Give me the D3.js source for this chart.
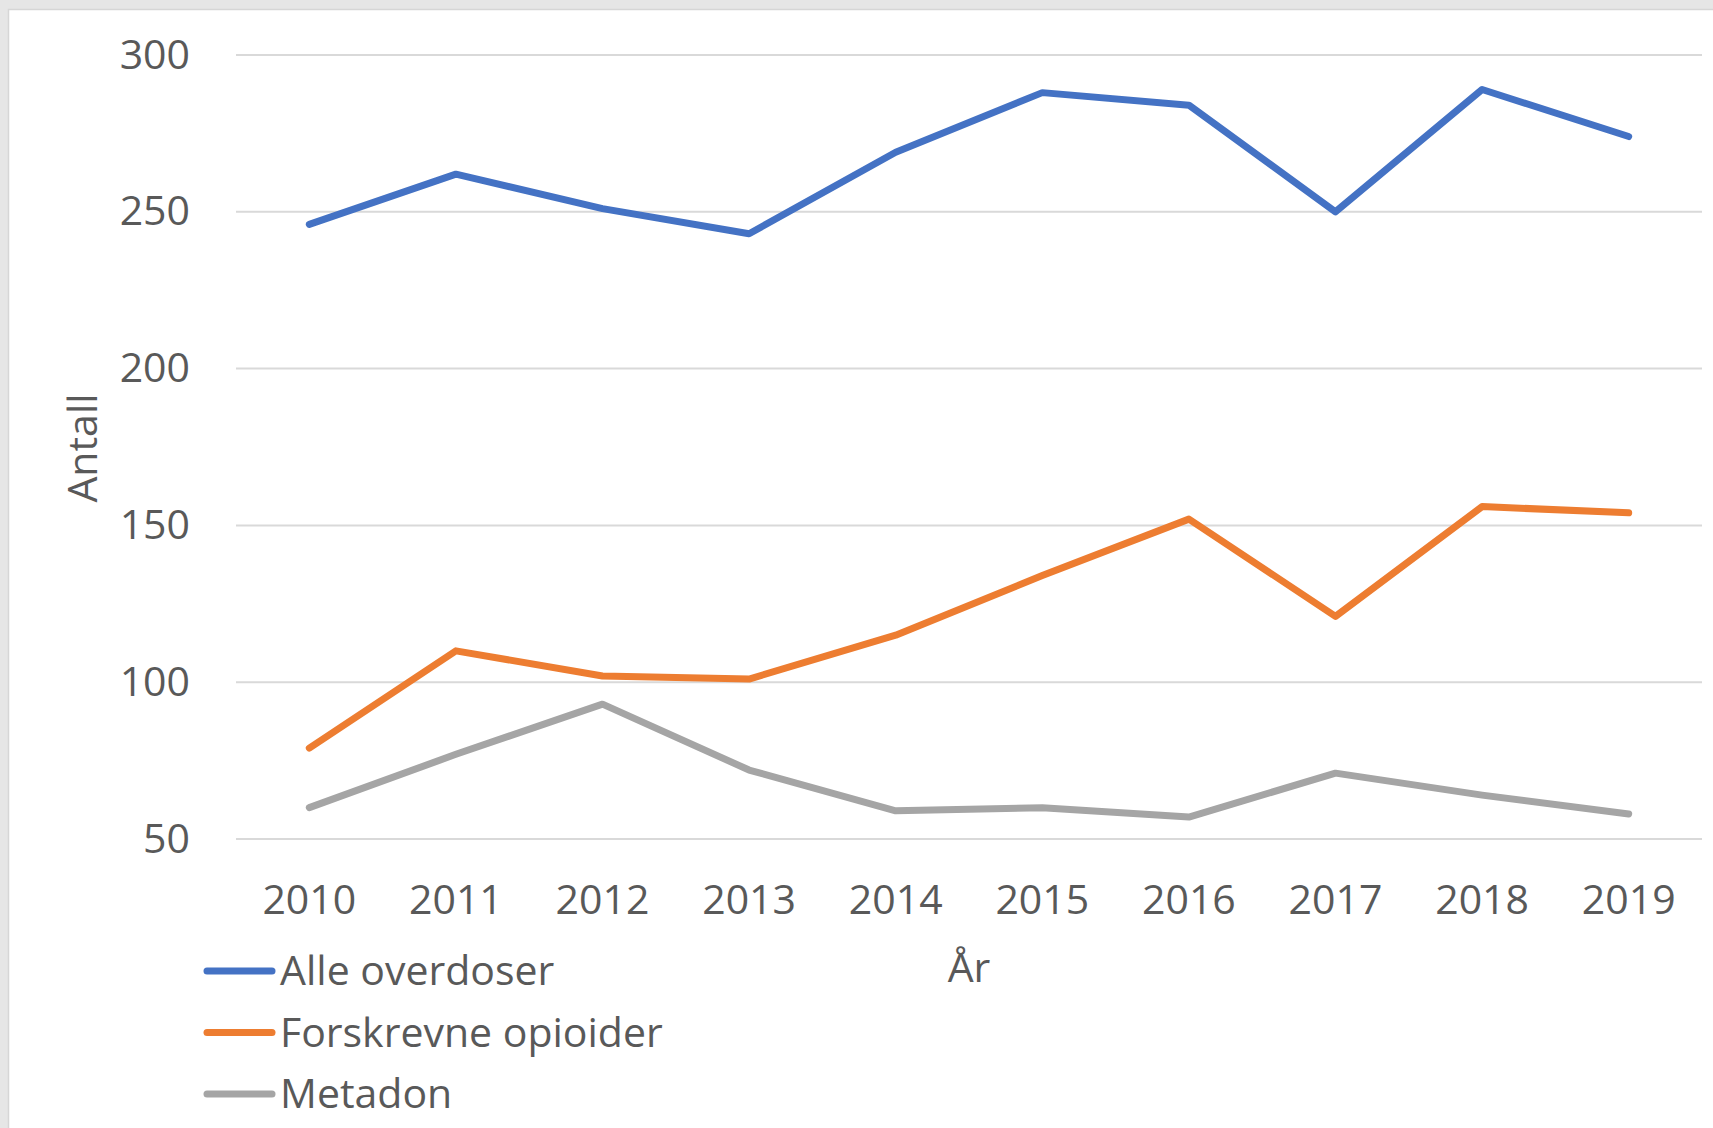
<!DOCTYPE html>
<html>
<head>
<meta charset="utf-8">
<script src="https://cdn.jsdelivr.net/npm/d3@7"></script>
<style>
    body { margin: 0; background: #e6e6e6; overflow: hidden; }
    text { font-family: "Open Sans", sans-serif; fill: #595959; }
</style>
</head>
<body>
<div id="chart-area"></div>
<script>
// Data
var years = ["2010", "2011", "2012", "2013", "2014", "2015", "2016", "2017", "2018", "2019"];
var alleOverdoser = [246, 262, 251, 243, 269, 288, 284, 250, 289, 274];
var forskrevneOpioider = [79, 110, 102, 101, 115, 134, 152, 121, 156, 154];
var metadon = [60, 77, 93, 72, 59, 60, 57, 71, 64, 58];
var seriesNames = ["Alle overdoser", "Forskrevne opioider", "Metadon"];
var seriesColors = ["#4472C4", "#ED7D31", "#A5A5A5"];
var yTicks = [50, 100, 150, 200, 250, 300];

var W = 1713, H = 1128;
var margin = { left: 236, right: 11, top: 55, bottom: 289 },
    width = W - margin.left - margin.right,
    height = H - margin.top - margin.bottom;

var svg = d3.select("#chart-area").append("svg")
    .attr("width", W)
    .attr("height", H);

// chart frame
svg.append("rect")
    .attr("x", 8.5).attr("y", 9.5)
    .attr("width", W).attr("height", H)
    .attr("fill", "#fff")
    .attr("stroke", "#d6d6d6")
    .attr("stroke-width", 1.5);

var g = svg.append("g")
    .attr("transform", "translate(" + margin.left + "," + margin.top + ")");

// Scales
var x = d3.scaleBand().domain(years).range([0, width]);
var y = d3.scaleLinear().domain([50, 300]).range([height, 0]);
var xc = function(d) { return x(d) + x.bandwidth() / 2; };

// gridlines
g.append("g").attr("class", "grid")
    .selectAll("line").data(yTicks).enter().append("line")
    .attr("x1", 0).attr("x2", width)
    .attr("y1", d => y(d)).attr("y2", d => y(d))
    .attr("stroke", "#d9d9d9")
    .attr("stroke-width", 2);

// y-axis
var yAxis = g.append("g")
    .call(d3.axisLeft(y).tickValues(yTicks).tickSize(0).tickPadding(46));
yAxis.select(".domain").remove();
yAxis.selectAll("text")
    .attr("font-size", "41px")
    .style("font-family", "'Open Sans', sans-serif")
    .attr("fill", "#595959");

// x-axis
var xAxis = g.append("g")
    .attr("transform", "translate(0," + height + ")")
    .call(d3.axisBottom(x).tickSize(0).tickPadding(46));
xAxis.select(".domain").remove();
xAxis.selectAll("text")
    .attr("font-size", "41px")
    .style("font-family", "'Open Sans', sans-serif")
    .attr("fill", "#595959");

// labels
g.append("text")
    .attr("transform", "rotate(-90)")
    .attr("x", -(448 - margin.top))
    .attr("y", 83 - margin.left)
    .attr("dy", "0.35em")
    .attr("font-size", "41px")
    .attr("text-anchor", "middle")
    .text("Antall");

g.append("text")
    .attr("x", width / 2)
    .attr("y", 968 - margin.top)
    .attr("dy", "0.35em")
    .attr("font-size", "41px")
    .attr("text-anchor", "middle")
    .text("År");

// lines
var allSeries = [alleOverdoser, forskrevneOpioider, metadon];
var line = d3.line()
    .x((d, i) => xc(years[i]))
    .y(d => y(d));

g.selectAll(".line").data(allSeries).enter().append("path")
    .attr("class", "line")
    .attr("fill", "none")
    .attr("stroke", (d, i) => seriesColors[i])
    .attr("stroke-width", 7)
    .attr("stroke-linecap", "round")
    .attr("stroke-linejoin", "round")
    .attr("d", line);

// legend
var legend = svg.append("g").attr("class", "legend");
var rows = legend.selectAll("g").data(seriesNames).enter().append("g")
    .attr("transform", (d, i) => "translate(0," + (971 + i * 61.5) + ")");
rows.append("line")
    .attr("x1", 207).attr("x2", 272)
    .attr("stroke", (d, i) => seriesColors[i])
    .attr("stroke-width", 7)
    .attr("stroke-linecap", "round");
rows.append("text")
    .attr("x", 280)
    .attr("dy", "0.35em")
    .attr("font-size", "41px")
    .text(d => d);
</script>
</body>
</html>
